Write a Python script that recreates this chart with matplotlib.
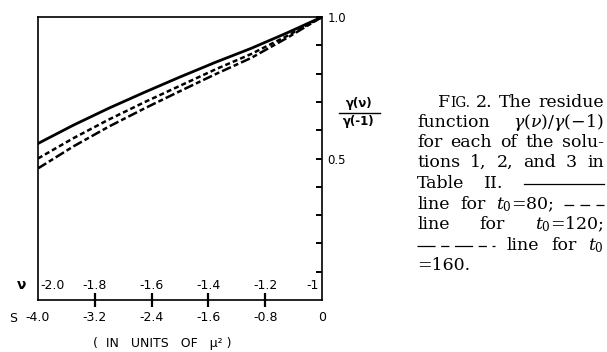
import numpy as np
import matplotlib.pyplot as plt
from matplotlib.lines import Line2D

plt.rcParams['axes.unicode_minus'] = False
plt.rcParams['lines.scale_dashes'] = False
plt.rcParams['mathtext.fontset'] = 'dejavuserif'

# residue function gamma(nu)/gamma(-1) against s (units of mu^2)
s = [-4.0, -3.5, -3.0, -2.5, -2.0, -1.5, -1.0, -0.5, 0.0]
ratio_t80 = [0.553, 0.618, 0.678, 0.734, 0.788, 0.840, 0.889, 0.943, 1.0]
ratio_t120 = [0.500, 0.572, 0.638, 0.699, 0.757, 0.815, 0.869, 0.932, 1.0]
ratio_t160 = [0.465, 0.543, 0.613, 0.677, 0.738, 0.798, 0.855, 0.925, 1.0]

s_ticks = [-4.0, -3.2, -2.4, -1.6, -0.8, 0.0]
s_labels = ['-4.0', '-3.2', '-2.4', '-1.6', '-0.8', '0']
nu_labels = ['-2.0', '-1.8', '-1.6', '-1.4', '-1.2', '-1']
y_ticks = [0.1, 0.2, 0.3, 0.4, 0.5, 0.6, 0.7, 0.8, 0.9, 1.0]
y_labels = ['', '', '', '', '0.5', '', '', '', '', '1.0']

W, H = 607, 352
fig = plt.figure(figsize=(W / 100, H / 100), dpi=100)
ax = fig.add_axes([38 / W, 1 - 300 / H, 284 / W, 283 / H])

solid = '-'
short_dash = (0, (3.6, 2.2))
long_short = (0, (7, 2.2, 3.6, 2.2))

ax.plot(s, ratio_t80, color='black', lw=2.0, ls=solid)
ax.plot(s, ratio_t120, color='black', lw=1.8, ls=short_dash)
ax.plot(s, ratio_t160, color='black', lw=1.8, ls=long_short)

ax.set_xlim(-4, 0)
ax.set_ylim(0, 1)
for sp in ax.spines.values():
    sp.set_linewidth(1.2)

ax.set_xticks(s_ticks)
ax.set_xticklabels(s_labels, fontsize=9)
ax.tick_params(axis='x', direction='inout', length=10, width=1.6, pad=3)
xt = ax.xaxis.get_major_ticks()
for i in (0, len(xt) - 1):
    xt[i].tick1line.set_visible(False)

ax.yaxis.tick_right()
ax.set_yticks(y_ticks)
ax.set_yticklabels(y_labels, fontsize=8.5)
ax.tick_params(axis='y', direction='in', length=4, width=1.4, pad=4)

# nu scale written just above the s axis
for i, (sv, lab) in enumerate(zip(s_ticks, nu_labels)):
    if i == 0:
        ax.text(sv + 0.03, 0.053, lab, transform=ax.get_xaxis_transform(),
                ha='left', va='center', fontsize=9)
    elif i == len(s_ticks) - 1:
        ax.text(sv - 0.05, 0.053, lab, transform=ax.get_xaxis_transform(),
                ha='right', va='center', fontsize=9)
    else:
        ax.text(sv, 0.053, lab, transform=ax.get_xaxis_transform(),
                ha='center', va='center', fontsize=9)


def fx(x):
    return x / W


def fy(y):
    return 1 - y / H


fig.text(fx(22), fy(285), 'ν', ha='center', va='center', fontsize=10, fontweight='bold')
fig.text(fx(13), fy(318), 'S', ha='center', va='center', fontsize=9)
fig.text(fx(162), fy(344), '(  IN   UNITS   OF   μ² )',
         ha='center', va='center', fontsize=9)

# y label as a fraction on the right
fig.text(fx(359), fy(104), 'γ(ν)', ha='center', va='center', fontsize=8.5, fontweight='bold')
fig.text(fx(359), fy(121), 'γ(-1)', ha='center', va='center', fontsize=8.5, fontweight='bold')
fig.add_artist(Line2D([fx(339), fx(380)], [fy(112.5), fy(112.5)], color='black', lw=1.0))

# caption, justified between x0 and x1
x0, x1 = 417, 604
cap_size = 12.5
renderer = fig.canvas.get_renderer()


def caption_line(items, yc, left=x0, justify=True):
    # items: strings or ('sample', width, linestyle)
    base = fy(yc + 5)
    arts, widths = [], []
    for it in items:
        if isinstance(it, tuple):
            arts.append(it)
            widths.append(it[1])
        else:
            t = fig.text(0, base, it, fontsize=cap_size, family='DejaVu Serif', va='baseline')
            arts.append(t)
            widths.append(t.get_window_extent(renderer).width)
    gap = 5
    if justify and len(items) > 1:
        gap = (x1 - left - sum(widths)) / (len(items) - 1)
    x = left
    for a, w in zip(arts, widths):
        if isinstance(a, tuple):
            fig.add_artist(Line2D([fx(x), fx(x + w)], [fy(yc + 1), fy(yc + 1)],
                                  color='black', lw=0.9, ls=a[2]))
        else:
            a.set_x(fx(x))
        x += w + gap


# small capitals for "Fig."
f_t = fig.text(fx(438), fy(107), 'F', fontsize=cap_size, family='DejaVu Serif', va='baseline')
fw = f_t.get_window_extent(renderer).width
ig_t = fig.text(fx(438 + fw), fy(107), 'IG.', fontsize=cap_size * 0.78,
                family='DejaVu Serif', va='baseline')
igw = ig_t.get_window_extent(renderer).width
caption_line(['2.', 'The', 'residue'], 102, left=438 + fw + igw + 6)
caption_line(['function', r'$\gamma(\nu)/\gamma(-1)$'], 122)
caption_line(['for', 'each', 'of', 'the', 'solu-'], 142)
caption_line(['tions', '1,', '2,', 'and', '3', 'in'], 162)
caption_line(['Table', 'II.', ('sample', 80, '-')], 183)
caption_line(['line', 'for', r'$t_0$=80;', ('sample', 40, (0, (7, 4.5)))], 204)
caption_line(['line', 'for', r'$t_0$=120;'], 224)
caption_line([('sample', 78, (0, (13, 4, 6, 4))), 'line', 'for', r'$t_0$'], 245)
caption_line(['=160.'], 265, justify=False)

fig.savefig('out.png', dpi=100)
